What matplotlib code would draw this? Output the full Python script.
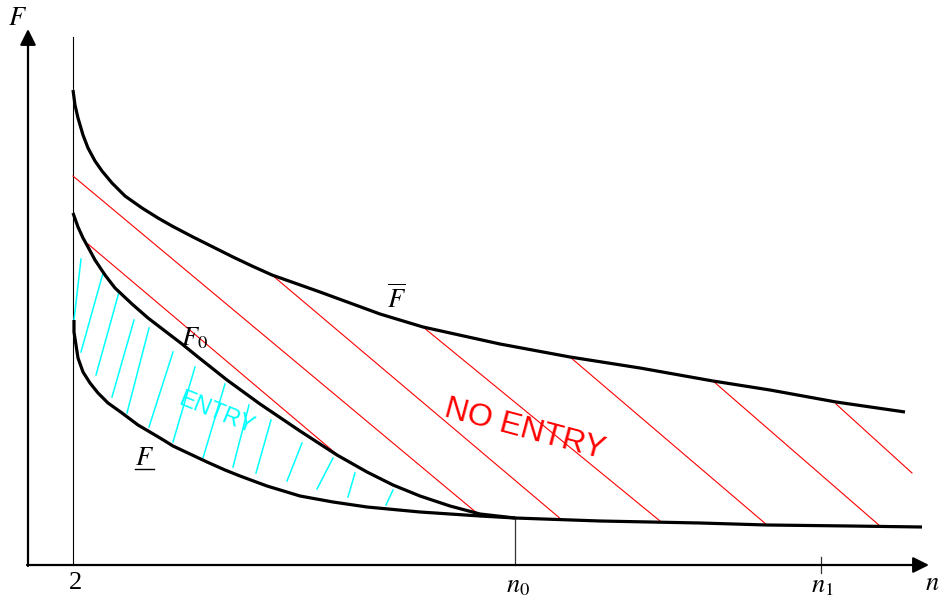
import matplotlib
matplotlib.use('Agg')
import matplotlib.pyplot as plt

plt.rcParams['mathtext.fontset'] = 'stix'
plt.rcParams['font.family'] = ['Liberation Serif', 'DejaVu Serif']

# schematic coordinates (picture units, F grows downward on screen)
upper_n = [73, 75, 78, 83, 88, 95, 102, 112, 125, 142, 158, 172, 193, 213, 233, 252, 272, 320, 380, 423,
           500, 570, 640, 713, 770, 836, 905]
upper_F = [90, 105, 118, 135, 148, 161, 171, 183, 196, 208, 218, 226, 237, 247, 257, 266, 275, 292, 314, 327,
           344, 357, 368, 381, 390, 402, 412]

f0_n = [73, 78, 83, 88, 95, 105, 115, 132, 148, 165, 182, 198, 227, 260, 300, 337, 367, 393, 420, 450, 480, 515]
f0_F = [213, 227, 238, 247, 260, 275, 288, 304, 318, 331, 344, 357, 380, 404, 431, 455, 472, 485, 496, 506, 514, 518]

lower_n = [74, 74, 76, 78, 83, 90, 98, 108, 122, 138, 155, 165, 173, 190, 207, 225, 240, 267, 300, 333, 367, 420,
           480, 515, 600, 700, 767, 850, 922]
lower_F = [320, 332, 345, 358, 372, 383, 393, 403, 413, 425, 435, 441, 446, 454, 462, 470, 476, 486, 496, 502, 507,
           512, 516, 518, 521, 523, 525, 526, 527]

# red hatching (no entry region): start / end points
red_n0 = [73, 88, 272, 423, 570, 713, 836]
red_F0 = [176, 244, 275, 327, 357, 381, 404]
red_n1 = [478, 340, 562, 660, 767, 880, 912]
red_F1 = [514, 457, 520, 521, 525, 526, 473]

# cyan hatching (entry region)
cy_n0 = [81, 103, 119, 134, 149, 173, 195, 225, 249, 271, 302, 333, 355, 393]
cy_F0 = [259, 273, 292, 320, 328, 352, 367, 384, 405, 420, 443, 458, 473, 490]
cy_n1 = [74, 81, 96, 112, 127, 149, 173, 203, 233, 256, 287, 317, 348, 386]
cy_F1 = [320, 352, 375, 397, 413, 427, 442, 458, 467, 473, 481, 489, 497, 505]

n_origin, F_origin = 28, 565
n_two = 73
n0_pos, n1_pos = 515, 821

fig = plt.figure(figsize=(9.39, 6.03), dpi=100)
ax = fig.add_axes([0, 0, 1, 1])
ax.set_xlim(0, 939)
ax.set_ylim(603, 0)
ax.axis('off')

# axes with arrows
ax.annotate('', xy=(n_origin, 29), xytext=(n_origin, F_origin + 1),
            arrowprops=dict(arrowstyle='-|>,head_length=0.6,head_width=0.3', lw=1.6,
                            color='black', mutation_scale=16, shrinkA=0, shrinkB=0))
ax.annotate('', xy=(929, F_origin), xytext=(n_origin - 1, F_origin),
            arrowprops=dict(arrowstyle='-|>,head_length=0.6,head_width=0.3', lw=1.6,
                            color='black', mutation_scale=16, shrinkA=0, shrinkB=0))

# vertical line at n = 2
ax.plot([n_two, n_two], [37, F_origin], color='black', lw=0.8)
# n0 and n1 marks
ax.plot([n0_pos, n0_pos], [518, F_origin], color='#333333', lw=0.9)
ax.plot([n1_pos, n1_pos], [557, 573], color='#333333', lw=0.9)

# hatching
for a, b, c, d in zip(red_n0, red_F0, red_n1, red_F1):
    ax.plot([a, c], [b, d], color='red', lw=0.8)
for a, b, c, d in zip(cy_n0, cy_F0, cy_n1, cy_F1):
    ax.plot([a, c], [b, d], color='cyan', lw=1.1)

# curves
for xs, ys in [(upper_n, upper_F), (f0_n, f0_F), (lower_n, lower_F)]:
    ax.plot(xs, ys, color='black', lw=2.3, solid_capstyle='butt', solid_joinstyle='round')

# labels
ax.text(8, 25, '$F$', fontsize=19, ha='left', va='baseline')
ax.text(925, 590, '$n$', fontsize=19, ha='left', va='baseline')
ax.text(76, 589, '2', fontsize=19, ha='center', va='baseline')
ax.text(518, 592, '$n_0$', fontsize=19, ha='center', va='baseline')
ax.text(822, 592, '$n_1$', fontsize=19, ha='center', va='baseline')
ax.text(397, 308, r'$\overline{F}$', fontsize=19, ha='center', va='baseline')
ax.text(194, 345, '$F_0$', fontsize=19, ha='center', va='baseline')
ax.text(145, 465, '$F$', fontsize=19, ha='center', va='baseline')
ax.plot([135, 154], [469, 469], color='black', lw=1.0)

ax.text(216, 413, 'ENTRY', fontsize=17, color='cyan', rotation=-22,
        ha='center', va='center', family='Liberation Sans', rotation_mode='anchor')
ax.text(525, 430, 'NO ENTRY', fontsize=23, color='red', rotation=-15,
        ha='center', va='center', family='Liberation Sans', rotation_mode='anchor')

fig.savefig('out.png', dpi=100)
